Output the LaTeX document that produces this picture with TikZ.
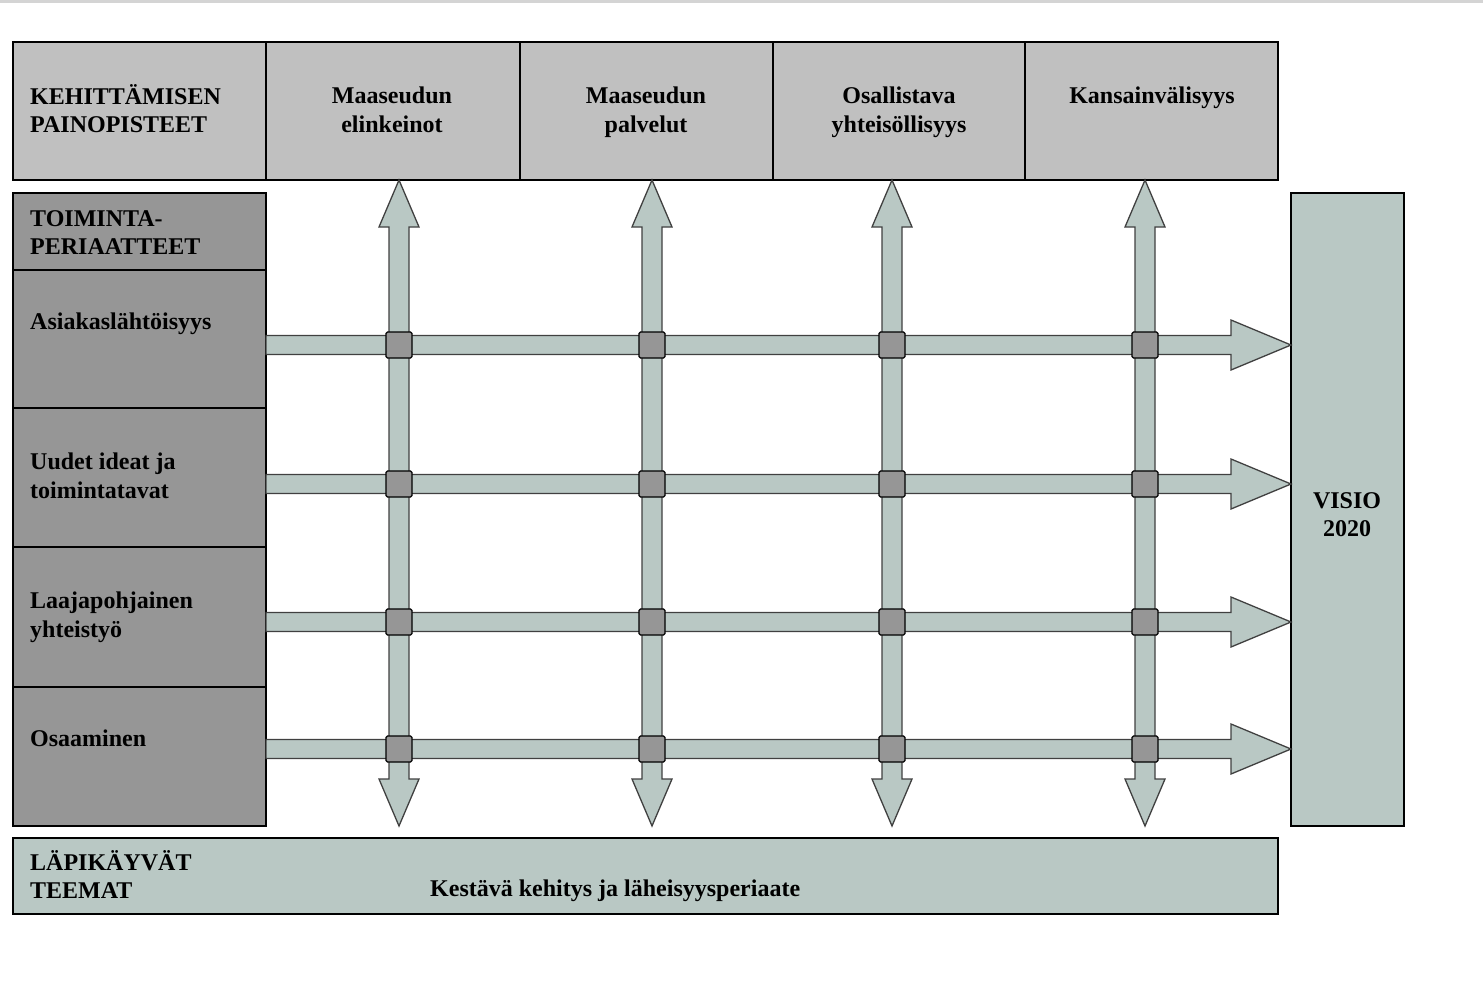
\documentclass[tikz,border=0pt]{standalone}
\usepackage{fontspec}
\setmainfont{Liberation Serif}
\usetikzlibrary{positioning}

\definecolor{paino}{RGB}{192,192,192}
\definecolor{periaate}{RGB}{150,150,150}
\definecolor{visio}{RGB}{185,200,196}
\definecolor{reuna}{RGB}{212,212,212}

\begin{document}
\begin{tikzpicture}[x=1pt,y=-1pt,
    box/.style={draw=black,line width=1.3pt,inner sep=0pt,outer sep=0pt,anchor=north west},
    txt/.style={inner sep=0pt,font=\fontsize{24}{28.5}\selectfont\bfseries},
    nuoli/.style={fill=visio,draw=black!75,line width=1.3pt,line join=miter},
    risti/.style={fill=periaate,draw=black,line width=1.3pt,rounded corners=1.5pt,
                  minimum size=26pt,inner sep=0pt}]
	\useasboundingbox (0,0) rectangle (1483,985);
	\fill[reuna] (0,0) rectangle (1483,3);

	% painopisteet
	\begin{scope}[every node/.style={box,fill=paino,minimum height=138pt}]
	    \node[minimum width=253pt] (paino) at (13,42) {};
	    \node[minimum width=254pt] (elinkeinot) at (paino.north east) {};
	    \node[minimum width=253pt] (palvelut) at (elinkeinot.north east) {};
	    \node[minimum width=252pt] (osallistava) at (palvelut.north east) {};
	    \node[minimum width=253pt] (kansain) at (osallistava.north east) {};
	\end{scope}

	% toimintaperiaatteet
	\begin{scope}[every node/.style={box,fill=periaate,minimum width=253pt}]
	    \node[minimum height=77pt] (toiminta) at (13,193) {};
	    \node[minimum height=138pt] (asiakas) at (toiminta.south west) {};
	    \node[minimum height=139pt] (uudet) at (asiakas.south west) {};
	    \node[minimum height=140pt] (laaja) at (uudet.south west) {};
	    \node[minimum height=139pt] (osaaminen) at (laaja.south west) {};
	\end{scope}

	\node[box,fill=visio,minimum width=113pt,minimum height=633pt] (visio) at (1291,193) {};
	\node[box,fill=visio,minimum width=1265pt,minimum height=76pt] (teemat) at (13,838) {};

	% nuolet
	\foreach \x in {399,652,892,1145}
	    \draw[nuoli] (\x,180) -- (\x+20,227) -- (\x+10,227) -- (\x+10,779) -- (\x+20,779)
	        -- (\x,826) -- (\x-20,779) -- (\x-10,779) -- (\x-10,227) -- (\x-20,227) -- cycle;
	\foreach \y in {345,484,622,749}
	    \draw[nuoli] (266,\y-9.5) -- (1231,\y-9.5) -- (1231,\y-25) -- (visio.west |- 0,\y)
	        -- (1231,\y+25) -- (1231,\y+9.5) -- (266,\y+9.5) -- cycle;
	\foreach \x in {399,652,892,1145}
	    \foreach \y in {345,484,622,749}
	        \node[risti] (r-\x-\y) at (\x,\y) {};

	% tekstit
	\begin{scope}[every node/.style={txt,align=left,anchor=north west}]
	    \node (paino-t) at (30,84) {KEHITTÄMISEN\\PAINOPISTEET};
	    \node (toiminta-t) at (30,210) {TOIMINTA-\\PERIAATTEET};
	    \node (asiakas-t) at (30,313) {Asiakaslähtöisyys};
	    \node (uudet-t) at (30,453) {Uudet ideat ja\\toimintatavat};
	    \node (laaja-t) at (30,592) {Laajapohjainen\\yhteistyö};
	    \node (osaaminen-t) at (30,730) {Osaaminen};
	    \node (teemat-t) at (30,850) {LÄPIKÄYVÄT\\TEEMAT};
	    \node (kestava-t) at (430,880) {Kestävä kehitys ja läheisyysperiaate};
	\end{scope}
	\begin{scope}[every node/.style={txt,align=center,anchor=north}]
	    \node (elinkeinot-t) at (392,87) {Maaseudun\\elinkeinot};
	    \node (palvelut-t) at (646,87) {Maaseudun\\palvelut};
	    \node (osallistava-t) at (899,87) {Osallistava\\yhteisöllisyys};
	    \node (kansain-t) at (1152,87) {Kansainvälisyys};
	    \node (visio-t) at (1347,492) {VISIO\\2020};
	\end{scope}
\end{tikzpicture}
\end{document}
